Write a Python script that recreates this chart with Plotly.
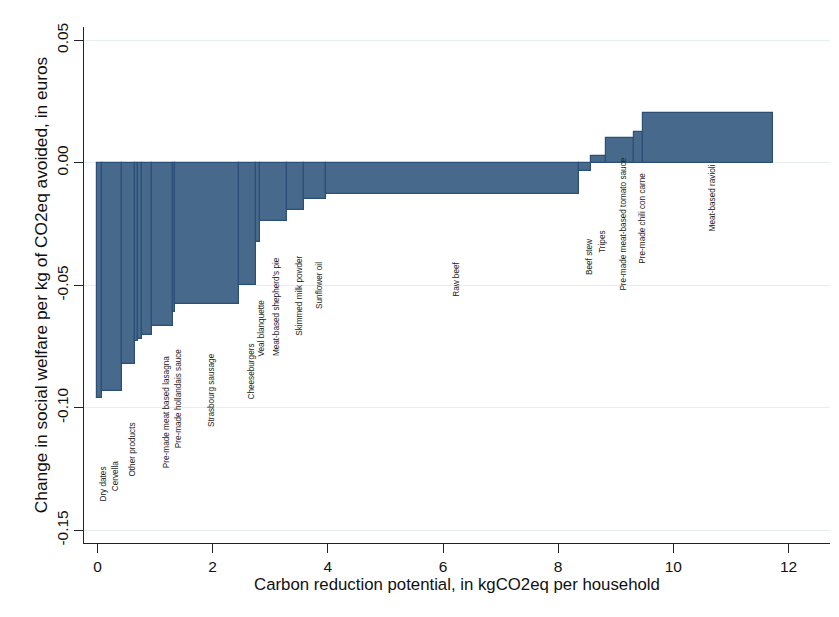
import numpy as np
import plotly.graph_objects as go

# Products ordered along the abatement curve; blank names are left unlabelled
products = [
    "Dry dates", "Cervella", "Other products", "", "", "",
    "Pre-made meat based lasagna", "Pre-made hollandais sauce",
    "Strasbourg sausage", "Cheeseburgers", "Veal blanquette",
    "Meat-based shepherd's pie", "Skimmed milk powder", "Sunflower oil",
    "Raw beef", "Beef stew", "Tripes", "Pre-made meat-based tomato sauce",
    "Pre-made chili con carne", "Meat-based ravioli",
]
# Carbon reduction potential (kgCO2eq per household) = bar widths
reduction = [
    0.073, 0.347, 0.226, 0.062, 0.059, 0.174, 0.375, 0.029, 1.112, 0.295,
    0.069, 0.464, 0.305, 0.372, 4.403, 0.198, 0.265, 0.486, 0.162, 2.257,
]
# Change in social welfare per kg CO2eq avoided (euros) = bar heights
welfare = [
    -0.0961, -0.0931, -0.0820, -0.0729, -0.0718, -0.0704, -0.0666, -0.0611,
    -0.0578, -0.0500, -0.0323, -0.0238, -0.0191, -0.0149, -0.0126, -0.0035,
    0.0028, 0.0101, 0.0124, 0.0205,
]
y_ticks = [0.05, 0.0, -0.05, -0.10, -0.15]
x_ticks = [0, 2, 4, 6, 8, 10, 12]

widths = np.array(reduction)
right_edges = np.cumsum(widths)
centers = right_edges - widths / 2

FONT = "Liberation Sans, Arial, sans-serif"
FILL = "#476a8c"
EDGE = "#2b4f76"

fig = go.Figure()
fig.add_trace(go.Bar(
    x=centers, y=welfare, width=widths, base=0,
    marker=dict(color=FILL, line=dict(color=EDGE, width=1.2)),
    hoverinfo="skip", showlegend=False,
))

# Product names written vertically below each step
label_drop = 0.035
for cx, val, name in zip(centers, welfare, products):
    if not name:
        continue
    fig.add_annotation(
        x=cx, y=val - label_drop, text=name, showarrow=False,
        textangle=-90, xshift=4,
        font=dict(family=FONT, size=8.2, color="#222222"),
        xanchor="center", yanchor="middle",
    )

fig.update_layout(
    width=839, height=617,
    margin=dict(l=84, r=9, t=27, b=74),
    paper_bgcolor="white", plot_bgcolor="white",
    font=dict(family=FONT, color="#111111"),
    bargap=0,
)
fig.update_xaxes(
    range=[-0.234, 12.72], tickvals=x_ticks,
    ticktext=[str(t) for t in x_ticks],
    showgrid=False, zeroline=False,
    showline=True, linecolor="#222222", linewidth=1.3,
    ticks="outside", ticklen=9, tickwidth=1.3, tickcolor="#222222",
    tickfont=dict(size=15.5, family=FONT, color="#111111"),
    title=dict(text="Carbon reduction potential, in kgCO2eq per household",
               font=dict(size=16.8, family=FONT, color="#111111"), standoff=3),
)
fig.update_yaxes(
    range=[-0.1552, 0.0554], tickvals=y_ticks,
    ticktext=[f"{t:.2f}" for t in y_ticks],
    tickangle=-90,
    showgrid=True, gridcolor="#e6eef0", gridwidth=1,
    zeroline=False,
    showline=True, linecolor="#222222", linewidth=1.3,
    ticks="outside", ticklen=9, tickwidth=1.3, tickcolor="#222222",
    tickfont=dict(size=15.5, family=FONT, color="#111111"),
    title=dict(text="Change in social welfare per kg of CO2eq avoided, in euros",
               font=dict(size=17.3, family=FONT, color="#111111"), standoff=1),
)

fig.write_html("out.html")
